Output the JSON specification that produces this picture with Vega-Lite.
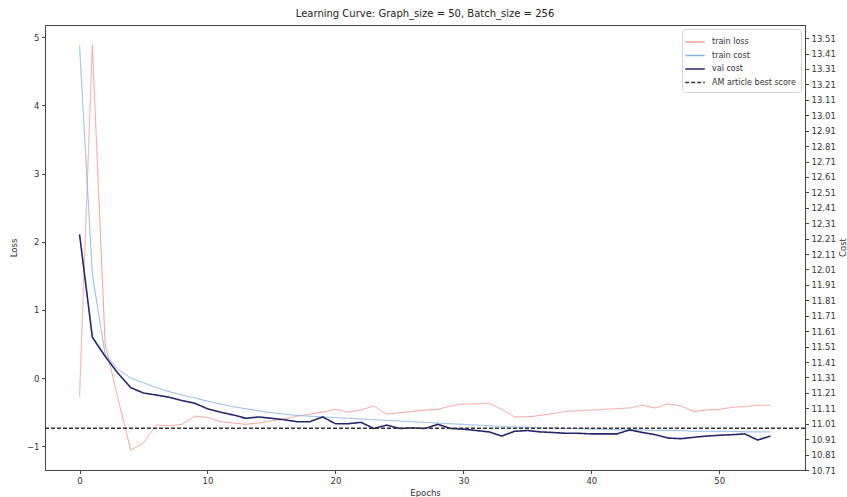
{
  "$schema": "https://vega.github.io/schema/vega-lite/v6.json",
  "width": 760,
  "height": 445,
  "autosize": {"type": "none"},
  "padding": {"left": 45, "top": 25, "right": 42, "bottom": 27},
  "background": "white",
  "title": {"text": "Learning Curve: Graph_size = 50, Batch_size = 256", "fontSize": 10, "font": "DejaVu Sans", "fontWeight": "normal", "color": "#222", "anchor": "middle", "offset": 6},
  "config": {
    "view": {"stroke": "#444", "strokeWidth": 1},
    "axis": {"grid": false, "domainColor": "#444", "tickColor": "#444", "tickSize": 3.5, "labelFont": "DejaVu Sans", "labelFontSize": 8.5, "labelColor": "#333", "titleFont": "DejaVu Sans", "titleFontSize": 8.5, "titleFontWeight": "normal", "titleColor": "#333", "labelPadding": 2.5},
    "legend": {"orient": "top-right", "offset": 4, "padding": 5, "fillColor": "white", "strokeColor": "#d5d5d5", "cornerRadius": 3, "labelFont": "DejaVu Sans", "labelFontSize": 8, "labelColor": "#333", "symbolType": "M-1.4,0H1.4", "symbolSize": 196, "symbolStrokeWidth": 1.5, "rowPadding": 1.5, "labelOffset": 9}
  },
  "data": {"values": [
    {"epoch": 0, "train loss": -0.27, "train cost": 13.462, "val cost": 12.238},
    {"epoch": 1, "train loss": 4.88, "train cost": 11.978, "val cost": 11.571},
    {"epoch": 2, "train loss": 0.5, "train cost": 11.461, "val cost": 11.447},
    {"epoch": 3, "train loss": -0.3, "train cost": 11.363, "val cost": 11.337},
    {"epoch": 4, "train loss": -1.06, "train cost": 11.306, "val cost": 11.244},
    {"epoch": 5, "train loss": -0.95, "train cost": 11.275, "val cost": 11.209},
    {"epoch": 6, "train loss": -0.69, "train cost": 11.244, "val cost": 11.196},
    {"epoch": 7, "train loss": -0.70, "train cost": 11.218, "val cost": 11.182},
    {"epoch": 8, "train loss": -0.68, "train cost": 11.196, "val cost": 11.160},
    {"epoch": 9, "train loss": -0.56, "train cost": 11.178, "val cost": 11.143},
    {"epoch": 10, "train loss": -0.58, "train cost": 11.156, "val cost": 11.107},
    {"epoch": 11, "train loss": -0.64, "train cost": 11.138, "val cost": 11.085},
    {"epoch": 12, "train loss": -0.66, "train cost": 11.120, "val cost": 11.067},
    {"epoch": 13, "train loss": -0.68, "train cost": 11.107, "val cost": 11.045},
    {"epoch": 14, "train loss": -0.66, "train cost": 11.094, "val cost": 11.054},
    {"epoch": 15, "train loss": -0.63, "train cost": 11.081, "val cost": 11.045},
    {"epoch": 16, "train loss": -0.60, "train cost": 11.072, "val cost": 11.036},
    {"epoch": 17, "train loss": -0.56, "train cost": 11.063, "val cost": 11.023},
    {"epoch": 18, "train loss": -0.53, "train cost": 11.059, "val cost": 11.023},
    {"epoch": 19, "train loss": -0.50, "train cost": 11.054, "val cost": 11.054},
    {"epoch": 20, "train loss": -0.46, "train cost": 11.050, "val cost": 11.010},
    {"epoch": 21, "train loss": -0.50, "train cost": 11.045, "val cost": 11.010},
    {"epoch": 22, "train loss": -0.47, "train cost": 11.041, "val cost": 11.019},
    {"epoch": 23, "train loss": -0.41, "train cost": 11.036, "val cost": 10.979},
    {"epoch": 24, "train loss": -0.53, "train cost": 11.032, "val cost": 11.001},
    {"epoch": 25, "train loss": -0.51, "train cost": 11.028, "val cost": 10.979},
    {"epoch": 26, "train loss": -0.49, "train cost": 11.023, "val cost": 10.983},
    {"epoch": 27, "train loss": -0.47, "train cost": 11.019, "val cost": 10.979},
    {"epoch": 28, "train loss": -0.46, "train cost": 11.014, "val cost": 11.006},
    {"epoch": 29, "train loss": -0.41, "train cost": 11.010, "val cost": 10.979},
    {"epoch": 30, "train loss": -0.38, "train cost": 11.006, "val cost": 10.975},
    {"epoch": 31, "train loss": -0.38, "train cost": 11.001, "val cost": 10.966},
    {"epoch": 32, "train loss": -0.37, "train cost": 10.997, "val cost": 10.957},
    {"epoch": 33, "train loss": -0.46, "train cost": 10.992, "val cost": 10.930},
    {"epoch": 34, "train loss": -0.57, "train cost": 10.988, "val cost": 10.961},
    {"epoch": 35, "train loss": -0.57, "train cost": 10.988, "val cost": 10.966},
    {"epoch": 36, "train loss": -0.55, "train cost": 10.983, "val cost": 10.957},
    {"epoch": 37, "train loss": -0.52, "train cost": 10.983, "val cost": 10.953},
    {"epoch": 38, "train loss": -0.49, "train cost": 10.979, "val cost": 10.948},
    {"epoch": 39, "train loss": -0.48, "train cost": 10.979, "val cost": 10.948},
    {"epoch": 40, "train loss": -0.47, "train cost": 10.975, "val cost": 10.944},
    {"epoch": 41, "train loss": -0.46, "train cost": 10.975, "val cost": 10.944},
    {"epoch": 42, "train loss": -0.45, "train cost": 10.970, "val cost": 10.944},
    {"epoch": 43, "train loss": -0.44, "train cost": 10.970, "val cost": 10.970},
    {"epoch": 44, "train loss": -0.40, "train cost": 10.970, "val cost": 10.953},
    {"epoch": 45, "train loss": -0.44, "train cost": 10.966, "val cost": 10.939},
    {"epoch": 46, "train loss": -0.38, "train cost": 10.966, "val cost": 10.917},
    {"epoch": 47, "train loss": -0.41, "train cost": 10.966, "val cost": 10.913},
    {"epoch": 48, "train loss": -0.49, "train cost": 10.961, "val cost": 10.922},
    {"epoch": 49, "train loss": -0.47, "train cost": 10.961, "val cost": 10.930},
    {"epoch": 50, "train loss": -0.46, "train cost": 10.961, "val cost": 10.935},
    {"epoch": 51, "train loss": -0.43, "train cost": 10.961, "val cost": 10.939},
    {"epoch": 52, "train loss": -0.42, "train cost": 10.957, "val cost": 10.944},
    {"epoch": 53, "train loss": -0.40, "train cost": 10.957, "val cost": 10.904},
    {"epoch": 54, "train loss": -0.40, "train cost": 10.957, "val cost": 10.930}
  ]},
  "layer": [
    {
      "transform": [{"fold": ["train loss"], "as": ["series", "loss"]}],
      "mark": {"type": "line", "strokeWidth": 1},
      "encoding": {
        "x": {"field": "epoch", "type": "quantitative", "scale": {"domain": [-2.7, 56.7], "nice": false, "zero": false}, "axis": {"values": [0, 10, 20, 30, 40, 50], "title": "Epochs", "format": "d", "titlePadding": 4}},
        "y": {"field": "loss", "type": "quantitative", "scale": {"domain": [-1.35, 5.18], "nice": false, "zero": false}, "axis": {"orient": "left", "title": "Loss", "values": [-1, 0, 1, 2, 3, 4, 5], "format": "d", "titlePadding": 8}},
        "color": {"field": "series", "type": "nominal", "scale": {"domain": ["train loss", "train cost", "val cost", "AM article best score"], "range": ["#f4a09a", "#87b4e4", "#26266b", "#333333"]}, "legend": {"title": null}},
        "strokeDash": {"field": "series", "type": "nominal", "scale": {"domain": ["train loss", "train cost", "val cost", "AM article best score"], "range": [[1, 0], [1, 0], [1, 0], [4, 2]]}, "legend": {"title": null}}
      }
    },
    {
      "layer": [
        {
          "transform": [{"fold": ["train cost", "val cost"], "as": ["series", "cost"]}],
          "mark": {"type": "line"},
          "encoding": {
            "x": {"field": "epoch", "type": "quantitative"},
            "y": {"field": "cost", "type": "quantitative", "scale": {"domain": [10.71, 13.595], "nice": false, "zero": false}, "axis": {"orient": "right", "title": "Cost", "format": ".2f", "labelOverlap": false, "labelBound": false, "titleAngle": 270, "titleX": 37, "titleY": 222, "titleAlign": "center", "titleBaseline": "middle", "values": [10.71, 10.81, 10.91, 11.01, 11.11, 11.21, 11.31, 11.41, 11.51, 11.61, 11.71, 11.81, 11.91, 12.01, 12.11, 12.21, 12.31, 12.41, 12.51, 12.61, 12.71, 12.81, 12.91, 13.01, 13.11, 13.21, 13.31, 13.41, 13.51]}},
            "color": {"field": "series", "type": "nominal"},
            "strokeDash": {"field": "series", "type": "nominal"},
            "strokeWidth": {"field": "series", "type": "nominal", "scale": {"domain": ["train cost", "val cost"], "range": [1, 1.6]}, "legend": null}
          }
        },
        {
          "data": {"values": [{"series": "AM article best score", "cost": 10.98}]},
          "mark": {"type": "rule", "strokeWidth": 1.5},
          "encoding": {
            "y": {"field": "cost", "type": "quantitative", "axis": {"orient": "right", "title": "Cost", "format": ".2f", "labelOverlap": false, "labelBound": false, "titleAngle": 270, "titleX": 37, "titleY": 222, "titleAlign": "center", "titleBaseline": "middle", "values": [10.71, 10.81, 10.91, 11.01, 11.11, 11.21, 11.31, 11.41, 11.51, 11.61, 11.71, 11.81, 11.91, 12.01, 12.11, 12.21, 12.31, 12.41, 12.51, 12.61, 12.71, 12.81, 12.91, 13.01, 13.11, 13.21, 13.31, 13.41, 13.51]}},
            "color": {"field": "series", "type": "nominal"},
            "strokeDash": {"field": "series", "type": "nominal"}
          }
        }
      ]
    }
  ],
  "resolve": {"scale": {"y": "independent"}}
}
